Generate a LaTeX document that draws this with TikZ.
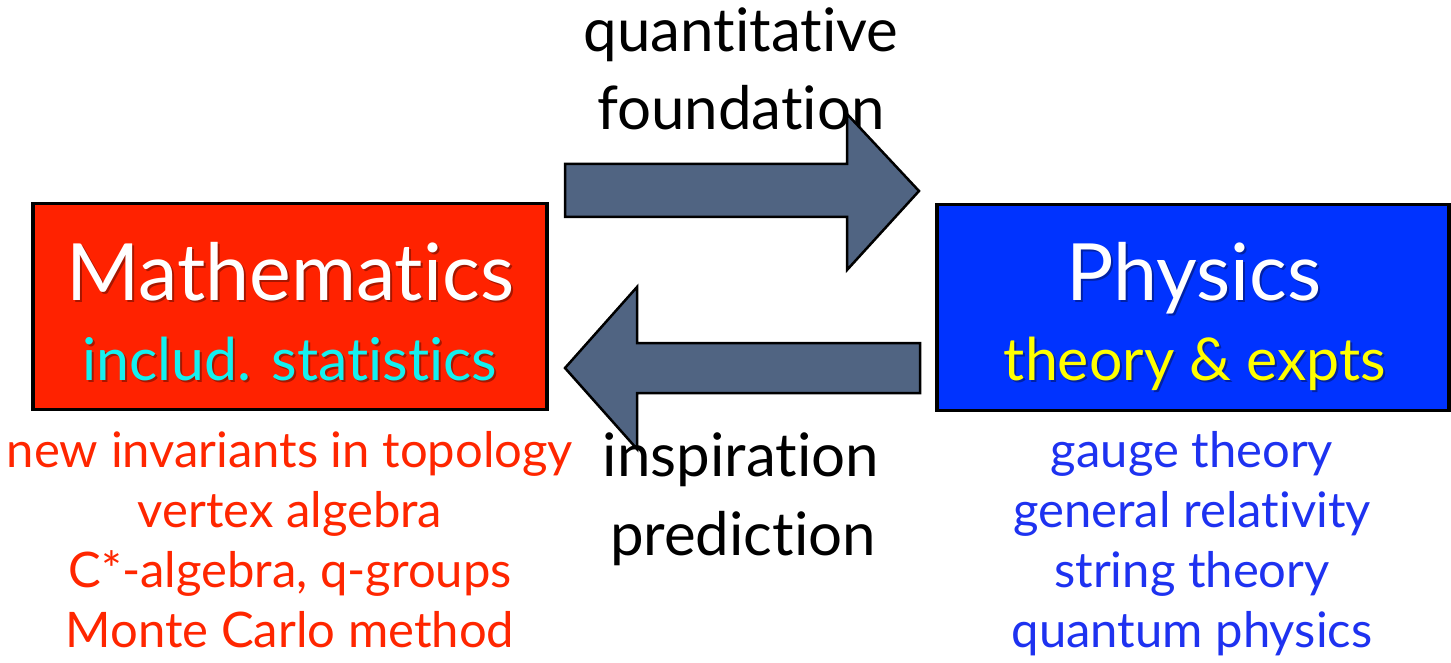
\documentclass[tikz,border=0pt]{standalone}
\usepackage{fontspec}
\setmainfont[Ligatures=NoCommon]{Lato}
\definecolor{mathred}{RGB}{255,34,0}
\definecolor{physblue}{RGB}{0,51,255}
\definecolor{cyantxt}{RGB}{20,240,240}
\definecolor{yellowtxt}{RGB}{255,255,0}
\definecolor{listred}{RGB}{255,38,0}
\definecolor{listblue}{RGB}{30,50,240}
\definecolor{arrowfill}{RGB}{80,100,130}
\tikzset{
  boxstyle/.style={draw=black, line width=3.5pt, minimum width=514pt, minimum height=206pt, inner sep=0pt},
  titletext/.style={anchor=base, inner sep=0pt, text=white, font=\fontsize{79}{79}\selectfont},
  subtext/.style={anchor=base, inner sep=0pt, font=\fontsize{59}{59}\selectfont},
  listtext/.style={anchor=base, inner sep=0pt, font=\fontsize{49}{49}\selectfont},
  midtext/.style={anchor=base, inner sep=0pt, text=black, font=\fontsize{60}{60}\selectfont},
  shadowtext/.style={anchor=base, inner sep=0pt, text=black, opacity=0.35},
  blockarrow/.style={draw=black, line width=2.5pt, fill=arrowfill, line join=miter},
}
\begin{document}
\begin{tikzpicture}[x=1pt,y=-1pt]
\useasboundingbox (0,0) rectangle (1451,663);
% boxes
\node[boxstyle, fill=mathred] (math) at (290,306.5) {};
\node[boxstyle, fill=physblue, minimum width=512pt] (phys) at (1193,307.5) {};
% texts top
\node[midtext] (qt) at (741,52) {quantitative};
\node[midtext] (fd) at (741,130) {foundation};
% arrows
\draw[blockarrow] (565,164) -- (847,164) -- (847,114) -- (919,191) -- (847,270) -- (847,217) -- (565,217) -- cycle;
\draw[blockarrow] (920,343) -- (637,343) -- (637,287) -- (565,368) -- (637,449) -- (637,393) -- (920,393) -- cycle;
% box texts
\node[titletext, shadowtext] at (292,302) {Mathematics};
\node[titletext] (mt) at (290,300) {Mathematics};
\node[subtext, shadowtext] at (292,382) {includ. statistics};
\node[subtext, text=cyantxt] (ms) at (290,380) {includ. statistics};
\node[titletext, shadowtext] at (1196,302) {Physics};
\node[titletext] (pt) at (1194,300) {Physics};
\node[subtext, shadowtext] at (1197,382) {theory \& expts};
\node[subtext, text=yellowtxt] (ps) at (1195,380) {theory \& expts};
% lower middle
\node[midtext] (insp) at (741,476) {inspiration};
\node[midtext] (pred) at (743,555) {prediction};
% lists
\node[listtext, text=listred] (r1) at (290,467) {new invariants in topology};
\node[listtext, text=listred] (r2) at (290,527) {vertex algebra};
\node[listtext, text=listred] (r3) at (290,587) {C*-algebra, q-groups};
\node[listtext, text=listred] (r4) at (290,647) {Monte Carlo method};
\node[listtext, text=listblue] (b1) at (1192,467) {gauge theory};
\node[listtext, text=listblue] (b2) at (1192,527) {general relativity};
\node[listtext, text=listblue] (b3) at (1192,587) {string theory};
\node[listtext, text=listblue] (b4) at (1192,647) {quantum physics};
\end{tikzpicture}
\end{document}
